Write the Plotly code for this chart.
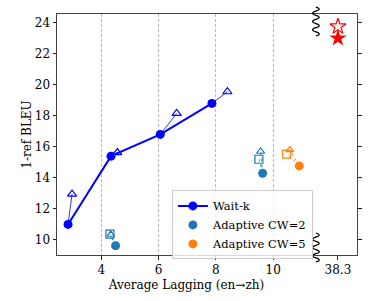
import plotly.graph_objects as go

# ---- data ----
waitk_al = [2.84, 4.34, 6.06, 7.86]
waitk_bleu = [11.0, 15.4, 16.8, 18.8]
waitk_tri_al = [2.98, 4.56, 6.63, 8.40]
waitk_tri_bleu = [12.95, 15.63, 18.15, 19.55]

cw2_al = [4.50, 9.63]
cw2_bleu = [9.63, 14.30]
cw2_sq_al = [4.30, 9.50]
cw2_sq_bleu = [10.37, 15.20]
cw2_tri_al = [4.33, 9.56]
cw2_tri_bleu = [10.35, 15.70]

cw5_al = [10.91]
cw5_bleu = [14.77]
cw5_sq_al = [10.47]
cw5_sq_bleu = [15.53]
cw5_tri_al = [10.58]
cw5_tri_bleu = [15.80]

full_al = [38.3]
full_bleu = [23.0]
full_open_bleu = [23.75]

xticks_left = [4, 6, 8, 10]
xticks_right = [38.3]
yticks = [10, 12, 14, 16, 18, 20, 22, 24]

BLUE = "#0000ff"
C2 = "#1f77b4"
C5 = "#ff7f0e"
FONT = "DejaVu Serif"


def pairs(xa, ya, xb, yb):
    xs, ys = [], []
    for a, b, c, d in zip(xa, ya, xb, yb):
        xs += [a, c, None]
        ys += [b, d, None]
    return xs, ys


fig = go.Figure()

# connectors
cx, cy = pairs(waitk_al, waitk_bleu, waitk_tri_al, waitk_tri_bleu)
fig.add_trace(go.Scatter(x=cx, y=cy, mode="lines", line=dict(color=BLUE, width=0.8),
                         showlegend=False, hoverinfo="skip"))
for (ax, ay, bx, by, col) in [
    (cw2_al, cw2_bleu, cw2_sq_al, cw2_sq_bleu, C2),
    (cw2_al, cw2_bleu, cw2_tri_al, cw2_tri_bleu, C2),
    (cw5_al, cw5_bleu, cw5_sq_al, cw5_sq_bleu, C5),
    (cw5_al, cw5_bleu, cw5_tri_al, cw5_tri_bleu, C5),
]:
    px_, py_ = pairs(ax, ay, bx, by)
    fig.add_trace(go.Scatter(x=px_, y=py_, mode="lines", line=dict(color=col, width=0.8, dash="dot"),
                             showlegend=False, hoverinfo="skip"))

# wait-k
fig.add_trace(go.Scatter(x=waitk_al, y=waitk_bleu, mode="lines+markers", name="Wait-k",
                         line=dict(color=BLUE, width=2),
                         marker=dict(color=BLUE, size=9, symbol="circle")))
fig.add_trace(go.Scatter(x=waitk_tri_al, y=waitk_tri_bleu, mode="markers", showlegend=False,
                         marker=dict(color=BLUE, size=8, symbol="triangle-up-open", line=dict(width=1.2))))

# adaptive CW=2
fig.add_trace(go.Scatter(x=cw2_al, y=cw2_bleu, mode="markers", name="Adaptive CW=2",
                         marker=dict(color=C2, size=9, symbol="circle")))
fig.add_trace(go.Scatter(x=cw2_sq_al, y=cw2_sq_bleu, mode="markers", showlegend=False,
                         marker=dict(color=C2, size=8, symbol="square-open", line=dict(width=1.2))))
fig.add_trace(go.Scatter(x=cw2_tri_al, y=cw2_tri_bleu, mode="markers", showlegend=False,
                         marker=dict(color=C2, size=7, symbol="triangle-up-open", line=dict(width=1.2))))

# adaptive CW=5
fig.add_trace(go.Scatter(x=cw5_al, y=cw5_bleu, mode="markers", name="Adaptive CW=5",
                         marker=dict(color=C5, size=9, symbol="circle")))
fig.add_trace(go.Scatter(x=cw5_sq_al, y=cw5_sq_bleu, mode="markers", showlegend=False,
                         marker=dict(color=C5, size=8, symbol="square-open", line=dict(width=1.2))))
fig.add_trace(go.Scatter(x=cw5_tri_al, y=cw5_tri_bleu, mode="markers", showlegend=False,
                         marker=dict(color=C5, size=7, symbol="triangle-up-open", line=dict(width=1.2))))

# full-sentence stars (right panel)
fig.add_trace(go.Scatter(x=full_al, y=full_bleu, mode="markers", showlegend=False, xaxis="x2", yaxis="y2",
                         marker=dict(color="red", size=13, symbol="star")))
fig.add_trace(go.Scatter(x=full_al, y=full_open_bleu, mode="markers", showlegend=False, xaxis="x2", yaxis="y2",
                         marker=dict(color="red", size=12, symbol="star-open", line=dict(width=1.2))))

SPLIT = 0.863
YR = [9.03, 24.56]
axis_common = dict(showline=True, linecolor="#444", linewidth=1, ticks="outside", ticklen=3.5,
                   tickwidth=0.8, tickcolor="#222", zeroline=False, automargin=False,
                   tickfont=dict(family=FONT, size=12, color="black"))

fig.update_layout(
    width=376, height=301,
    margin=dict(l=57, r=19, t=14, b=46),
    paper_bgcolor="white", plot_bgcolor="white",
    font=dict(family=FONT, size=12, color="black"),
    xaxis=dict(domain=[0, SPLIT], range=[2.455, 11.489], tickvals=xticks_left, mirror=True,
               showgrid=True, gridcolor="#b8b8b8", gridwidth=0.8, griddash="3px,2px",
               title=dict(text="Average Lagging (en→zh)", font=dict(family=FONT, size=12), standoff=4),
               **axis_common),
    xaxis2=dict(domain=[SPLIT, 1], range=[37.533, 38.963], tickvals=xticks_right, ticktext=["38.3"],
                mirror=True, showgrid=False, anchor="y2", **axis_common),
    yaxis=dict(range=YR, tickvals=yticks, showgrid=False, anchor="x",
               title=dict(text="1-ref BLEU", font=dict(family=FONT, size=12), standoff=0),
               **axis_common),
    yaxis2=dict(range=YR, tickvals=yticks, showgrid=False, anchor="x2", side="right",
                showticklabels=False, **axis_common),
    legend=dict(x=0.383, y=0.268, xanchor="left", yanchor="top",
                bgcolor="rgba(255,255,255,0.8)", bordercolor="#cccccc", borderwidth=1,
                font=dict(family=FONT, size=11.5), tracegroupgap=0, itemwidth=30),
)

# break squiggles (decoration, paper coordinates)
plot_w, plot_h = 300.0, 241.0
cxp = SPLIT
amp = 3.3 / plot_w


def squiggle(y0px_from_bottom, length_px, cycles=3.5):
    n = int(cycles * 2)
    step = length_px / n / plot_h
    y = y0px_from_bottom / plot_h
    d = f"M {cxp:.4f},{y:.4f}"
    for i in range(n):
        side = amp if i % 2 == 0 else -amp
        ym = y + step / 2
        y2 = y + step
        d += f" Q {cxp + 2*side:.4f},{ym:.4f} {cxp:.4f},{y2:.4f}"
        y = y2
    return d


for start in [-7.0, 219.0]:
    fig.add_shape(type="path", xref="paper", yref="paper", path=squiggle(start, 29),
                  line=dict(color="black", width=1.3))

fig.write_html("out.html", config={"displayModeBar": False},
               post_script="document.body.style.margin='0';document.body.style.padding='0';")
